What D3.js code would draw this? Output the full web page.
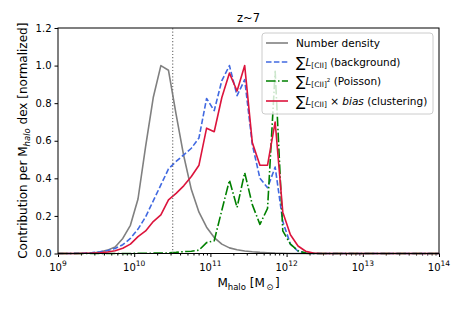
<!DOCTYPE html>
<head>
  <meta charset="utf-8">
  <script src="https://d3js.org/d3.v7.min.js"></script>
  <style>
    body { margin:0; background:white; }
    svg { font-family: "DejaVu Sans", sans-serif; }
  </style>
</head>
<body>
<script>
// log10 halo mass of each bin
var logMass = [9.0, 9.05, 9.15, 9.25, 9.35, 9.45, 9.55, 9.65, 9.75, 9.85, 9.95,
  10.05, 10.15, 10.25, 10.35, 10.45, 10.55, 10.65, 10.75, 10.85, 10.95,
  11.05, 11.15, 11.25, 11.35, 11.45, 11.55, 11.65, 11.75, 11.85, 11.95,
  12.05, 12.15, 12.25, 12.35, 12.45, 14.0];

var numberDensity = [0, 0, 0, 0, 0.001, 0.003, 0.008, 0.018, 0.035, 0.08, 0.15,
  0.29, 0.57, 0.83, 1.0, 0.975, 0.74, 0.52, 0.34, 0.22, 0.14,
  0.085, 0.05, 0.03, 0.02, 0.013, 0.009, 0.006, 0.004, 0.002, 0.001,
  0, 0, 0, 0, 0, 0];

var background = [0, 0, 0, 0.001, 0.002, 0.005, 0.009, 0.016, 0.027, 0.047, 0.08,
  0.13, 0.195, 0.28, 0.365, 0.45, 0.49, 0.525, 0.56, 0.615, 0.825,
  0.76, 0.92, 1.0, 0.84, 0.925, 0.58, 0.40, 0.35, 0.46, 0.17,
  0.05, 0.012, 0.003, 0, 0, 0];

var poisson = [0, 0, 0, 0, 0, 0, 0, 0, 0, 0, 0,
  0.001, 0.001, 0.002, 0.002, 0.003, 0.006, 0.01, 0.012, 0.018, 0.058,
  0.068, 0.23, 0.39, 0.245, 0.43, 0.26, 0.155, 0.24, 0.97, 0.12,
  0.05, 0.015, 0.002, 0, 0, 0];

var clustering = [0, 0, 0, 0, 0.001, 0.002, 0.004, 0.008, 0.015, 0.028, 0.05,
  0.09, 0.12, 0.17, 0.205, 0.285, 0.32, 0.36, 0.41, 0.47, 0.667,
  0.648, 0.83, 0.96, 0.865, 1.0, 0.59, 0.47, 0.47, 0.70, 0.22,
  0.10, 0.04, 0.012, 0.002, 0, 0];

var xTicks = [1e9, 1e10, 1e11, 1e12, 1e13, 1e14];
var xTickExp = ["9", "10", "11", "12", "13", "14"];
var yTicks = [0, 0.2, 0.4, 0.6, 0.8, 1.0, 1.2];
var cutMass = 3.2e10;

var width = 463, height = 309;
var margin = {top: 28, left: 58, right: 24, bottom: 56};

var svg = d3.select("body").append("svg")
  .attr("width", width)
  .attr("height", height);

var x = d3.scaleLog().domain([1e9, 1e14]).range([margin.left, width - margin.right]);
var y = d3.scaleLinear().domain([0, 1.2]).range([height - margin.bottom + 0.5, margin.top]);

// minor ticks
var minor = [];
for (var e = 9; e < 14; e++) {
  for (var k = 2; k <= 9; k++) minor.push(k * Math.pow(10, e));
}

var xAxis = svg.append("g")
  .attr("transform", "translate(0," + y(0) + ")")
  .call(d3.axisBottom(x).tickValues(xTicks).tickSize(3.5).tickFormat(""));
xAxis.select(".domain").remove();
svg.append("g")
  .attr("transform", "translate(0," + y(0) + ")")
  .call(d3.axisBottom(x).tickValues(minor).tickSize(2).tickFormat(""))
  .select(".domain").remove();

xTicks.forEach(function(t, i) {
  var tx = svg.append("text")
    .attr("x", x(t))
    .attr("y", y(0) + 17.5)
    .attr("text-anchor", "middle")
    .attr("font-size", 10)
    .attr("fill", "#000");
  tx.append("tspan").text("10");
  tx.append("tspan").attr("dy", -5).attr("font-size", 7.5).text(xTickExp[i]);
});

var yAxis = svg.append("g")
  .attr("transform", "translate(" + margin.left + ",0)")
  .call(d3.axisLeft(y).tickValues(yTicks).tickSize(3.5).tickFormat(d3.format(".1f")));
yAxis.select(".domain").remove();
yAxis.selectAll("text").attr("font-size", 10).attr("font-family", "DejaVu Sans").attr("x", -6.5);

// lines
var pts = function(vals) {
  return logMass.map(function(m, i) { return [Math.pow(10, m), vals[i]]; });
};
var line = d3.line().x(function(d) { return x(d[0]); }).y(function(d) { return y(d[1]); });

var series = [
  {vals: numberDensity, color: "#808080", dash: null},
  {vals: background, color: "#4169e1", dash: "5.5,2.4"},
  {vals: poisson, color: "#008000", dash: "9.6,2.4,1.5,2.4"},
  {vals: clustering, color: "#dc143c", dash: null}
];

var plot = svg.append("g");
series.forEach(function(s) {
  plot.append("path")
    .attr("d", line(pts(s.vals)))
    .attr("fill", "none")
    .attr("stroke", s.color)
    .attr("stroke-width", 1.6)
    .attr("stroke-dasharray", s.dash)
    .attr("stroke-linejoin", "round");
});

plot.append("line")
  .attr("x1", x(cutMass)).attr("x2", x(cutMass))
  .attr("y1", y(0)).attr("y2", y(1.2))
  .attr("stroke", "#777")
  .attr("stroke-width", 1.2)
  .attr("stroke-dasharray", "1.2,2");

// frame
svg.append("rect")
  .attr("x", margin.left).attr("y", margin.top)
  .attr("width", x(1e14) - margin.left)
  .attr("height", y(0) - margin.top)
  .attr("fill", "none")
  .attr("stroke", "#000")
  .attr("stroke-width", 1);

// legend
var lg = svg.append("g");
lg.append("rect")
  .attr("x", 262).attr("y", 33).attr("width", 171).attr("height", 81)
  .attr("rx", 3)
  .attr("fill", "white").attr("fill-opacity", 0.8)
  .attr("stroke", "#ccc").attr("stroke-width", 1);

var rows = [43, 62, 81, 101];
series.forEach(function(s, i) {
  lg.append("line")
    .attr("x1", 266).attr("x2", 288)
    .attr("y1", rows[i]).attr("y2", rows[i])
    .attr("stroke", s.color).attr("stroke-width", 1.6)
    .attr("stroke-dasharray", s.dash);
});

function sumLabel(ty, sup, rest) {
  var t = lg.append("text").attr("x", 296).attr("y", ty + 4).attr("font-size", 10.5);
  t.append("tspan").attr("font-size", 14).attr("dy", 1).text("\u2211");
  t.append("tspan").attr("dy", -1).attr("font-style", "italic").text("L");
  t.append("tspan").attr("font-size", 7.5).attr("dy", 2).text("[CII]");
  if (sup) t.append("tspan").attr("font-size", 5.5).attr("dy", -5).text(sup);
  t.append("tspan").attr("dy", sup ? 3 : -2).text(" ");
  rest.forEach(function(r) {
    t.append("tspan").attr("font-style", r.i ? "italic" : "normal").text(r.t);
  });
}
lg.append("text").attr("x", 296).attr("y", rows[0] + 4).attr("font-size", 10.5).text("Number density");
sumLabel(rows[1], null, [{t: "(background)"}]);
sumLabel(rows[2], "2", [{t: "(Poisson)"}]);
sumLabel(rows[3], null, [{t: "\u00d7 "}, {t: "bias", i: true}, {t: " (clustering)"}]);

// title
svg.append("text")
  .attr("x", (margin.left + x(1e14)) / 2)
  .attr("y", 21.5)
  .attr("text-anchor", "middle")
  .attr("font-size", 11.5)
  .text("z~7");

// axis labels
var xl = svg.append("text")
  .attr("x", (margin.left + x(1e14)) / 2)
  .attr("y", 287)
  .attr("text-anchor", "middle")
  .attr("font-size", 12);
xl.append("tspan").text("M");
xl.append("tspan").attr("font-size", 8.5).attr("dy", 2.5).text("halo");
xl.append("tspan").attr("dy", -2.5).text(" [M");
xl.append("tspan").attr("font-size", 8.5).attr("dy", 2.5).attr("dx", 1.5).text("\u2299");
xl.append("tspan").attr("dy", -2.5).attr("dx", 1.5).text("]");

var yl = svg.append("text")
  .attr("transform", "translate(27," + ((margin.top + y(0)) / 2) + ") rotate(-90)")
  .attr("text-anchor", "middle")
  .attr("font-size", 12);
yl.append("tspan").text("Contribution per M");
yl.append("tspan").attr("font-size", 8.5).attr("dy", 2.5).attr("font-style", "italic").text("halo");
yl.append("tspan").attr("dy", -2.5).text(" dex [normalized]");
</script>
</body>
